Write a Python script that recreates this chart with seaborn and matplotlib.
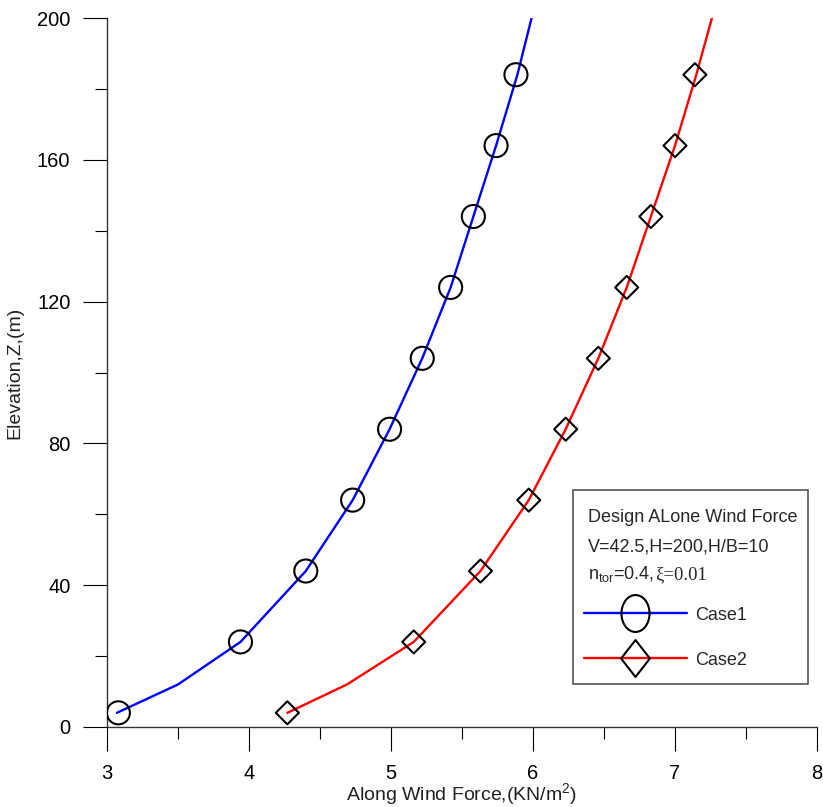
import numpy as np
import pandas as pd
import matplotlib
matplotlib.use("Agg")
import matplotlib.pyplot as plt
from matplotlib.path import Path
from matplotlib.lines import Line2D
from matplotlib.patches import Rectangle
from matplotlib.ticker import MultipleLocator
import seaborn as sns

# Elevation of the sampled levels (m)
z_line = [4, 12, 24, 44, 64, 84, 104, 124, 144, 164, 184, 200]
z_marks = [4, 24, 44, 64, 84, 104, 124, 144, 164, 184]

# Along-wind force (kN/m^2) for both cases
case1_line = [3.07, 3.50, 3.94, 4.40, 4.73, 4.99, 5.22, 5.42, 5.58, 5.74, 5.89, 5.99]
case2_line = [4.27, 4.69, 5.16, 5.63, 5.97, 6.23, 6.46, 6.66, 6.83, 7.00, 7.15, 7.26]
case1_marks = [3.08, 3.94, 4.40, 4.73, 4.99, 5.22, 5.42, 5.58, 5.74, 5.88]
case2_marks = [4.27, 5.16, 5.63, 5.97, 6.23, 6.46, 6.66, 6.83, 7.00, 7.14]

x_ticks = [3, 4, 5, 6, 7, 8]
y_ticks = [0, 40, 80, 120, 160, 200]

legend_title = ["Design ALone Wind Force", "V=42.5,H=200,H/B=10"]
case_labels = ["Case1", "Case2"]

sns.set_style("ticks")
plt.rcParams["font.family"] = ["Liberation Sans", "DejaVu Sans"]
plt.rcParams["mathtext.fontset"] = "custom"
plt.rcParams["mathtext.rm"] = "Liberation Sans"

W, H = 823, 807
fig = plt.figure(figsize=(W / 100, H / 100), dpi=100)
ax = fig.add_axes([107 / W, 80 / H, 710 / W, 709 / H])

lines = pd.DataFrame({
    "force": case1_line + case2_line,
    "z": z_line + z_line,
    "case": ["Case1"] * len(z_line) + ["Case2"] * len(z_line),
})
marks1 = pd.DataFrame({"force": case1_marks, "z": z_marks})
marks2 = pd.DataFrame({"force": case2_marks, "z": z_marks})

sns.lineplot(data=lines, x="force", y="z", hue="case", sort=False, estimator=None,
             palette={"Case1": "#0000ff", "Case2": "#ff0000"}, linewidth=1.7,
             legend=False, ax=ax, zorder=2)

circle = Path.unit_circle()
diamond = Path([(0, 1), (1, 0), (0, -1), (-1, 0), (0, 1)],
               [Path.MOVETO, Path.LINETO, Path.LINETO, Path.LINETO, Path.CLOSEPOLY])
ms_pt = 16.6
sns.scatterplot(data=marks1, x="force", y="z", marker=circle, s=ms_pt ** 2,
                facecolor="none", edgecolor="black", linewidth=1.5, ax=ax, zorder=3)
sns.scatterplot(data=marks2, x="force", y="z", marker=diamond, s=ms_pt ** 2,
                facecolor="none", edgecolor="black", linewidth=1.5, ax=ax, zorder=3)

ax.set_xlim(3, 8)
ax.set_ylim(0, 200)
ax.set_xticks(x_ticks)
ax.set_yticks(y_ticks)
ax.xaxis.set_minor_locator(MultipleLocator(0.5))
ax.yaxis.set_minor_locator(MultipleLocator(20))
ax.tick_params(which="major", direction="out", length=17.3, width=0.8, color="black",
               labelsize=14.5, labelcolor="black")
ax.tick_params(which="minor", direction="out", length=8.6, width=0.8, color="black")
ax.tick_params(axis="x", which="major", pad=9)
ax.tick_params(axis="y", which="major", pad=9)
for side in ("top", "right"):
    ax.spines[side].set_visible(False)
for side in ("left", "bottom"):
    ax.spines[side].set_color("#333333")
    ax.spines[side].set_linewidth(1.0)

ax.set_xlabel("Along Wind Force,(KN/m$^{2}$)", fontsize=14, color="#222222")
ax.set_ylabel("Elevation,Z,(m)", fontsize=14, color="#222222")
ax.xaxis.set_label_coords(0.5, (727 - 795) / 709)
ax.xaxis.label.set_va("center")
ax.yaxis.set_label_coords((15 - 107) / 710, 0.5)
ax.yaxis.label.set_va("center")

# Legend box with the design parameters
box = Rectangle((573 / W, 1 - 684 / H), (808 - 573) / W, (684 - 490) / H,
                transform=fig.transFigure, fill=False, edgecolor="#555555",
                linewidth=1.2, zorder=5)
fig.add_artist(box)
fs = 13
fig.text(588 / W, 1 - 518 / H, legend_title[0], fontsize=fs, va="center", ha="left")
fig.text(588 / W, 1 - 547 / H, legend_title[1], fontsize=fs, va="center", ha="left")
y3 = 1 - 579 / H
t3 = fig.text(588 / W, y3, r"n$_{\mathregular{tor}}$=0.4,", fontsize=fs,
              va="baseline", ha="left")
renderer = fig.canvas.get_renderer()
x_end = t3.get_window_extent(renderer).x1
fig.text((x_end + 1) / W, y3, "ξ=0.01", fontsize=fs + 0.5,
         family=["Liberation Serif", "DejaVu Serif"], va="baseline", ha="left")

ell = Path(np.column_stack([Path.unit_circle().vertices[:, 0] * 0.76,
                            Path.unit_circle().vertices[:, 1]]),
           Path.unit_circle().codes)
dia_tall = Path([(0, 1), (0.78, 0), (0, -1), (-0.78, 0), (0, 1)],
                [Path.MOVETO, Path.LINETO, Path.LINETO, Path.LINETO, Path.CLOSEPOLY])
handles = [
    Line2D([], [], color="#0000ff", linewidth=1.7, marker=ell, markersize=26.6,
           markerfacecolor="none", markeredgecolor="black", markeredgewidth=1.5),
    Line2D([], [], color="#ff0000", linewidth=1.7, marker=dia_tall, markersize=26.6,
           markerfacecolor="none", markeredgecolor="black", markeredgewidth=1.5),
]
leg = ax.legend(handles, case_labels, loc="upper left",
                bbox_to_anchor=(580 / W, 1 - 603 / H), bbox_transform=fig.transFigure,
                frameon=False, fontsize=fs, handlelength=5.7, handletextpad=0.5,
                labelspacing=1.55, borderaxespad=0, borderpad=0.2)
leg.set_zorder(6)

fig.savefig("out.png", dpi=100)
